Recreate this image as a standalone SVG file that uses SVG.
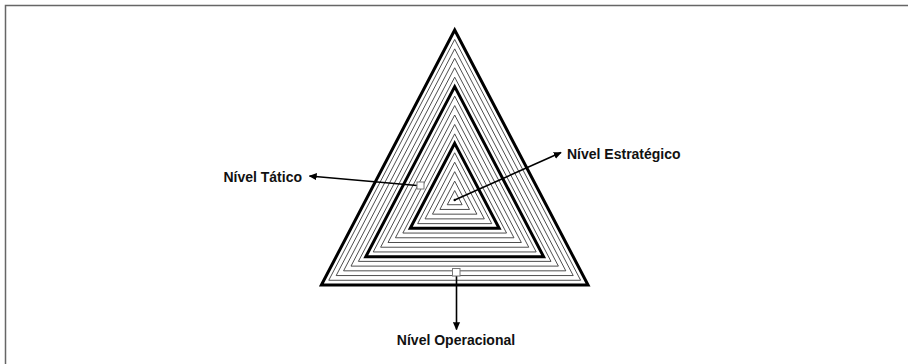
<svg xmlns="http://www.w3.org/2000/svg" width="908" height="364" viewBox="0 0 908 364">
  <style>
    .thin { fill: none; stroke: #3a3a3a; stroke-width: 0.9; }
    .thick { fill: none; stroke: #000; stroke-width: 3; stroke-linejoin: miter; }
    .conn { fill: none; stroke: #000; stroke-width: 1.6; }
    .box { fill: #fff; stroke: #777; stroke-width: 1; }
    .lbl { font-family: "Liberation Sans", Arial, sans-serif; font-weight: bold; font-size: 14px; fill: #111; }
    .frame { fill: none; stroke: #666; stroke-width: 1.5; }
  </style>
  <defs>
    <marker id="ah" viewBox="0 0 10 10" refX="9" refY="5" markerWidth="8" markerHeight="8" markerUnits="userSpaceOnUse" orient="auto">
      <path d="M0,0.5 L10,5 L0,9.5 z" fill="#000"/>
    </marker>
  </defs>
  <rect width="908" height="364" fill="#fff"/>
  <path class="frame" d="M5.5,364 L5.5,5.5 L908,5.5"/>

  <g id="piramide">
    <polygon class="thin" points="454.7,190.56 462.11,204.72 447.29,204.72"/>
    <polygon class="thin" points="454.7,181.11 469.51,209.44 439.89,209.44"/>
    <polygon class="thin" points="454.7,171.67 476.92,214.17 432.48,214.17"/>
    <polygon class="thin" points="454.7,162.22 484.33,218.89 425.07,218.89"/>
    <polygon class="thin" points="454.7,152.78 491.74,223.61 417.66,223.61"/>
    <polygon class="thin" points="454.7,133.89 506.55,233.06 402.85,233.06"/>
    <polygon class="thin" points="454.7,124.44 513.96,237.78 395.44,237.78"/>
    <polygon class="thin" points="454.7,115.00 521.37,242.50 388.03,242.50"/>
    <polygon class="thin" points="454.7,105.56 528.77,247.22 380.63,247.22"/>
    <polygon class="thin" points="454.7,96.11 536.18,251.94 373.22,251.94"/>
    <polygon class="thin" points="454.7,77.22 551.00,261.39 358.40,261.39"/>
    <polygon class="thin" points="454.7,67.78 558.40,266.11 351.00,266.11"/>
    <polygon class="thin" points="454.7,58.33 565.81,270.83 343.59,270.83"/>
    <polygon class="thin" points="454.7,48.89 573.22,275.56 336.18,275.56"/>
    <polygon class="thin" points="454.7,39.44 580.63,280.28 328.77,280.28"/>
    <polygon class="thick" points="454.7,143.33 499.14,228.33 410.26,228.33"/>
    <polygon class="thick" points="454.7,86.67 543.59,256.67 365.81,256.67"/>
    <polygon class="thick" points="454.7,30.00 588.03,285.00 321.37,285.00"/>
  </g>

  <g id="conectores">
    <line class="conn" x1="454.7" y1="200" x2="561" y2="152.5" marker-end="url(#ah)"/>
    <line class="conn" x1="417" y1="185.5" x2="309.5" y2="176" marker-end="url(#ah)"/>
    <line class="conn" x1="456.5" y1="276" x2="456.5" y2="329.5" marker-end="url(#ah)"/>
    <circle cx="454.7" cy="200" r="1.2" fill="#000"/>
  </g>

  <g id="nivel-estrategico">
    <text class="lbl" x="567" y="158.5">Nível Estratégico</text>
  </g>
  <g id="nivel-tatico">
    <rect class="box" x="417" y="182" width="7" height="7"/>
    <text class="lbl" x="302" y="181.5" text-anchor="end">Nível Tático</text>
  </g>
  <g id="nivel-operacional">
    <rect class="box" x="452.5" y="268.5" width="7.5" height="7.5"/>
    <text class="lbl" x="456" y="345" text-anchor="middle">Nível Operacional</text>
  </g>
</svg>
